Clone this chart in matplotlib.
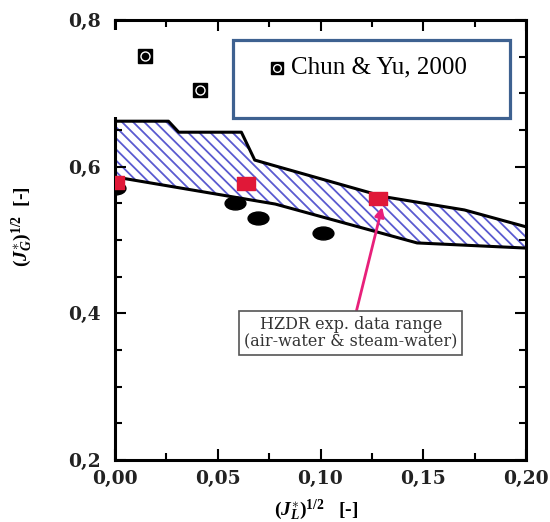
import matplotlib
matplotlib.use('Agg')

import numpy as np
import matplotlib.pyplot as plt
from matplotlib.patches import Rectangle
from matplotlib.path import Path
from matplotlib.transforms import Affine2D

# Band of HZDR experimental data (upper and lower boundary)
upper_x = [0.0, 0.026, 0.031, 0.0615, 0.068, 0.078, 0.131, 0.170, 0.200]
upper_y = [0.662, 0.662, 0.647, 0.647, 0.609, 0.601, 0.559, 0.541, 0.518]
lower_x = [0.0, 0.078, 0.147, 0.200]
lower_y = [0.586, 0.549, 0.496, 0.489]

# Chun & Yu, 2000
chun_x = [0.0146, 0.0414]
chun_y = [0.751, 0.7045]

# red squares
red_x = [0.0, 0.0637, 0.128]
red_y = [0.579, 0.578, 0.557]

# black ovals
oval_x = [0.0, 0.0584, 0.0696, 0.101]
oval_y = [0.571, 0.550, 0.530, 0.509]

xticks = [0.0, 0.05, 0.10, 0.15, 0.20]
xtick_labels = ['0,00', '0,05', '0,10', '0,15', '0,20']
yticks = [0.2, 0.4, 0.6, 0.8]
ytick_labels = ['0,2', '0,4', '0,6', '0,8']

plt.rcParams['mathtext.fontset'] = 'custom'
plt.rcParams['mathtext.rm'] = 'Liberation Serif:bold'
plt.rcParams['mathtext.it'] = 'Liberation Serif:italic:bold'
plt.rcParams['hatch.linewidth'] = 1.3

fig = plt.figure(figsize=(5.5, 5.22), dpi=100)
ax = fig.add_axes([115 / 550, 62 / 522, 411 / 550, 440 / 522])
ax.set_xlim(0, 0.2)
ax.set_ylim(0.2, 0.8)

# hatched band
band_x = np.concatenate([upper_x, lower_x[::-1]])
band_y = np.concatenate([upper_y, lower_y[::-1]])
ax.fill(band_x, band_y, facecolor='white', edgecolor='#5a5ad0',
        hatch='\\\\\\', linewidth=0, zorder=1)
ax.plot(upper_x, upper_y, color='black', lw=2.2, zorder=2)
ax.plot(lower_x, lower_y, color='black', lw=2.2, zorder=2)

# markers
oval = Path.unit_circle().transformed(Affine2D().scale(1.0, 0.62))
ax.plot(oval_x, oval_y, linestyle='none', marker=oval, markersize=15,
        color='black', zorder=3)
rect = [(-1, -0.72), (1, -0.72), (1, 0.72), (-1, 0.72), (-1, -0.72)]
ax.plot(red_x, red_y, linestyle='none', marker=rect, markersize=13,
        color='#e01838', zorder=4)
ax.plot(chun_x, chun_y, linestyle='none', marker='s', markersize=10,
        color='black', zorder=4)
ax.plot(chun_x, chun_y, linestyle='none', marker='o', markersize=6.5,
        markerfacecolor='none', markeredgecolor='white', mew=1, zorder=5)

# white overlay hiding the upper left spine
ax.add_patch(Rectangle((-0.01, 0.78), 0.035, 0.197, transform=ax.transAxes,
                       facecolor='white', edgecolor='none', zorder=6,
                       clip_on=False))

# legend box
ax.add_patch(Rectangle((0.287, 0.777), 0.674, 0.178, transform=ax.transAxes,
                       facecolor='white', edgecolor='#3e6190', lw=2.3,
                       zorder=7, clip_on=False))
ax.plot([0.394], [0.891], transform=ax.transAxes, marker='s', markersize=9,
        color='black', zorder=8, clip_on=False)
ax.plot([0.394], [0.891], transform=ax.transAxes, marker='o', markersize=5.5,
        markerfacecolor='none', markeredgecolor='white', mew=1, zorder=9,
        clip_on=False)
ax.text(0.428, 0.893, 'Chun & Yu, 2000', transform=ax.transAxes,
        family='Liberation Serif', fontsize=18, va='center', ha='left',
        zorder=9)

# annotation
ax.annotate('HZDR exp. data range\n(air-water & steam-water)',
            xy=(0.130, 0.545), xytext=(0.574, 0.288), textcoords='axes fraction',
            ha='center', va='center', family='DejaVu Serif', fontsize=11.5,
            color='#333333', linespacing=1.05,
            bbox=dict(boxstyle='square,pad=0.3', fc='white', ec='#555555', lw=1.2),
            arrowprops=dict(arrowstyle='-|>', color='#e8207a', lw=2,
                            mutation_scale=14, shrinkA=0, shrinkB=0),
            zorder=10)

# axes styling
for s in ax.spines.values():
    s.set_linewidth(2.2)
ax.set_xticks(xticks, xtick_labels)
ax.set_yticks(yticks, ytick_labels)
ax.set_xticks(np.arange(0.025, 0.2, 0.05), minor=True)
ax.set_yticks(np.arange(0.25, 0.8, 0.05), minor=True)
ax.tick_params(which='both', direction='in', top=True, right=True, width=1.5)
ax.tick_params(which='major', length=8)
ax.tick_params(which='minor', length=5)
ax.tick_params(axis='x', pad=7)
ax.tick_params(axis='y', pad=10)
for lab in ax.get_xticklabels() + ax.get_yticklabels():
    lab.set_family('DejaVu Serif')
    lab.set_fontweight('bold')
    lab.set_fontsize(13.5)
    lab.set_color('#222222')

ax.set_xlabel(r'$(J_L^{\ast})^{1/2}$   [-]', fontsize=14,
              family='Liberation Serif', fontweight='bold')
ax.set_ylabel(r'$(J_G^{\ast})^{1/2}$  [-]', fontsize=14,
              family='Liberation Serif', fontweight='bold')
ax.xaxis.set_label_coords(0.49, -0.085)
ax.yaxis.set_label_coords(-0.195, 0.53)

fig.savefig('out.png', dpi=100)
